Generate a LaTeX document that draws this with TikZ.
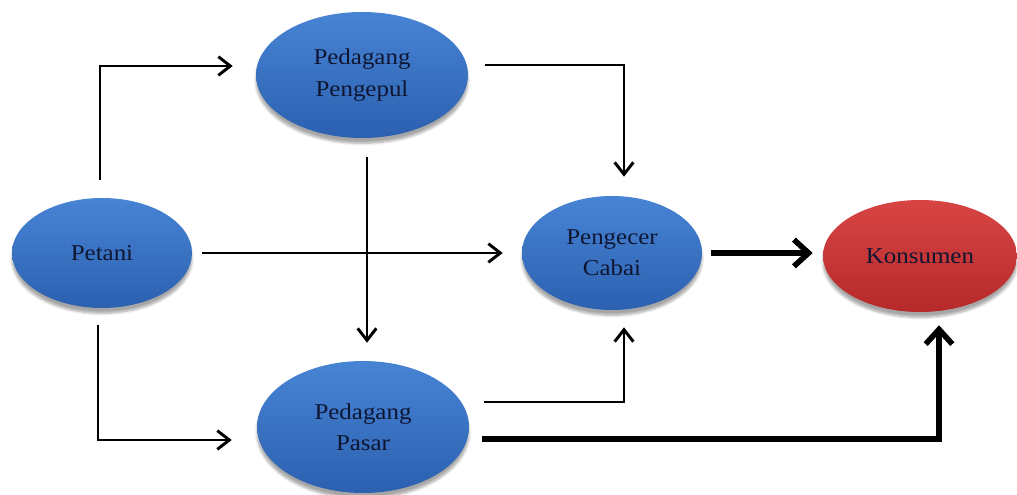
\documentclass[tikz,border=0pt]{standalone}
\usepackage{fontspec}
\setmainfont{Liberation Serif}
\newfontfamily\lblfont[FakeStretch=1.1]{Liberation Serif}
\usetikzlibrary{arrows.meta,shapes.geometric,shadows.blur}
\definecolor{bluetop}{RGB}{72,132,212}
\definecolor{bluebot}{RGB}{44,96,176}
\definecolor{redtop}{RGB}{216,68,68}
\definecolor{redbot}{RGB}{182,42,42}
\definecolor{txt}{RGB}{14,22,50}
\begin{document}
\begin{tikzpicture}[x=0.75pt,y=-0.75pt,
  ell/.style={ellipse, inner sep=0pt, align=center, text=txt,
    font=\lblfont\fontsize{17}{23.5}\selectfont,
    blur shadow={shadow xshift=0pt, shadow yshift=-4pt, shadow blur steps=6, shadow opacity=35}},
  blueell/.style={ell, top color=bluetop, bottom color=bluebot},
  redell/.style={ell, top color=redtop, bottom color=redbot},
  thinarrow/.style={draw=black, line width=2.2pt, -{Straight Barb[length=9pt,width=14pt]}},
  thickarrow/.style={draw=black, line width=4.2pt, -{Straight Barb[length=11pt,width=20pt]}}]
\useasboundingbox (0,0) rectangle (1017,495);

\node[blueell, minimum width=159pt, minimum height=94.5pt] (pengepul) at (362,75) {Pedagang\\Pengepul};
\node[blueell, minimum width=135pt, minimum height=82.5pt] (petani) at (102,253) {Petani};
\node[blueell, minimum width=135pt, minimum height=85.5pt] (pengecer) at (612,253) {Pengecer\\Cabai};
\node[redell, minimum width=145.5pt, minimum height=84pt] (konsumen) at (920,256) {Konsumen};
\node[blueell, minimum width=159pt, minimum height=99pt] (pasar) at (363,427) {Pedagang\\Pasar};

% Petani -> Pedagang Pengepul
\draw[thinarrow, shorten <=13.5pt, shorten >=17.25pt]
  ([xshift=-1.5pt]petani.north) |- ([yshift=6.75pt]pengepul.west);
% Petani -> Pedagang Pasar
\draw[thinarrow, shorten <=12.75pt, shorten >=18.75pt]
  ([xshift=-3pt]petani.south) |- ([yshift=-9.75pt]pasar.west);
% Petani -> Pengecer
\draw[thinarrow, shorten <=7.5pt, shorten >=14.25pt]
  (petani.east) -- (pengecer.west);
% Pengepul -> Pasar
\draw[thinarrow, shorten <=14.25pt, shorten >=13.5pt]
  ([xshift=3.75pt]pengepul.south) -- ([xshift=3.75pt]pengepul.south |- pasar.north);
% Pengepul -> Pengecer
\draw[thinarrow, shorten <=12.75pt, shorten >=14.25pt]
  ([yshift=7.5pt]pengepul.east) -| ([xshift=9pt]pengecer.north);
% Pasar -> Pengecer
\draw[thinarrow, shorten <=11.25pt, shorten >=12.75pt]
  ([yshift=18.75pt]pasar.east) -| ([xshift=9pt]pengecer.south);
% Pengecer -> Konsumen
\draw[thickarrow, shorten <=6.75pt, shorten >=7.5pt]
  (pengecer.east) -- (pengecer.east -| konsumen.west);
% Pasar -> Konsumen
\draw[thickarrow, shorten <=9.75pt, shorten >=9.75pt]
  ([yshift=-9pt]pasar.east) -| ([xshift=14.25pt]konsumen.south);
\end{tikzpicture}
\end{document}
